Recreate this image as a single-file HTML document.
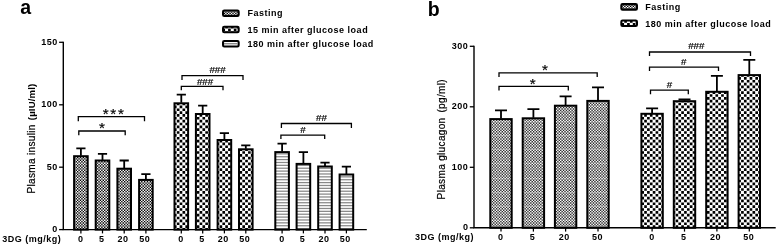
<!DOCTYPE html>
<html><head><meta charset="utf-8"><title>Figure</title>
<style>
html,body{margin:0;padding:0;background:#fff}
svg{display:block}
text{font-family:'Liberation Sans',sans-serif;fill:#000}
.b{font-weight:bold;font-size:9px;letter-spacing:0.5px}
.p{font-weight:bold;font-size:19.5px}
.h{font-size:9.8px;letter-spacing:-0.1px;stroke:#000;stroke-width:0.2px}
.s{font-size:15.2px;letter-spacing:1.7px;stroke:#000;stroke-width:0.2px}
.yl{font-size:10.1px;letter-spacing:0.3px;stroke:#000;stroke-width:0.18px}
.ylb{font-size:9.6px;font-weight:bold;letter-spacing:0.15px}
</style></head><body>
<svg width="780" height="246" viewBox="0 0 780 246">
<defs>
<pattern id="fine" width="57" height="57" patternUnits="userSpaceOnUse">
<rect width="57" height="57" fill="#fff"/>
<path d="M0.020 0.020h1.39v1.39h-1.39zM2.870 0.020h1.39v1.39h-1.39zM5.720 0.020h1.39v1.39h-1.39zM8.570 0.020h1.39v1.39h-1.39zM11.420 0.020h1.39v1.39h-1.39zM14.270 0.020h1.39v1.39h-1.39zM17.120 0.020h1.39v1.39h-1.39zM19.970 0.020h1.39v1.39h-1.39zM22.820 0.020h1.39v1.39h-1.39zM25.670 0.020h1.39v1.39h-1.39zM28.520 0.020h1.39v1.39h-1.39zM31.370 0.020h1.39v1.39h-1.39zM34.220 0.020h1.39v1.39h-1.39zM37.070 0.020h1.39v1.39h-1.39zM39.920 0.020h1.39v1.39h-1.39zM42.770 0.020h1.39v1.39h-1.39zM45.620 0.020h1.39v1.39h-1.39zM48.470 0.020h1.39v1.39h-1.39zM51.320 0.020h1.39v1.39h-1.39zM54.170 0.020h1.39v1.39h-1.39zM1.445 1.445h1.39v1.39h-1.39zM4.295 1.445h1.39v1.39h-1.39zM7.145 1.445h1.39v1.39h-1.39zM9.995 1.445h1.39v1.39h-1.39zM12.845 1.445h1.39v1.39h-1.39zM15.695 1.445h1.39v1.39h-1.39zM18.545 1.445h1.39v1.39h-1.39zM21.395 1.445h1.39v1.39h-1.39zM24.245 1.445h1.39v1.39h-1.39zM27.095 1.445h1.39v1.39h-1.39zM29.945 1.445h1.39v1.39h-1.39zM32.795 1.445h1.39v1.39h-1.39zM35.645 1.445h1.39v1.39h-1.39zM38.495 1.445h1.39v1.39h-1.39zM41.345 1.445h1.39v1.39h-1.39zM44.195 1.445h1.39v1.39h-1.39zM47.045 1.445h1.39v1.39h-1.39zM49.895 1.445h1.39v1.39h-1.39zM52.745 1.445h1.39v1.39h-1.39zM55.595 1.445h1.39v1.39h-1.39zM0.020 2.870h1.39v1.39h-1.39zM2.870 2.870h1.39v1.39h-1.39zM5.720 2.870h1.39v1.39h-1.39zM8.570 2.870h1.39v1.39h-1.39zM11.420 2.870h1.39v1.39h-1.39zM14.270 2.870h1.39v1.39h-1.39zM17.120 2.870h1.39v1.39h-1.39zM19.970 2.870h1.39v1.39h-1.39zM22.820 2.870h1.39v1.39h-1.39zM25.670 2.870h1.39v1.39h-1.39zM28.520 2.870h1.39v1.39h-1.39zM31.370 2.870h1.39v1.39h-1.39zM34.220 2.870h1.39v1.39h-1.39zM37.070 2.870h1.39v1.39h-1.39zM39.920 2.870h1.39v1.39h-1.39zM42.770 2.870h1.39v1.39h-1.39zM45.620 2.870h1.39v1.39h-1.39zM48.470 2.870h1.39v1.39h-1.39zM51.320 2.870h1.39v1.39h-1.39zM54.170 2.870h1.39v1.39h-1.39zM1.445 4.295h1.39v1.39h-1.39zM4.295 4.295h1.39v1.39h-1.39zM7.145 4.295h1.39v1.39h-1.39zM9.995 4.295h1.39v1.39h-1.39zM12.845 4.295h1.39v1.39h-1.39zM15.695 4.295h1.39v1.39h-1.39zM18.545 4.295h1.39v1.39h-1.39zM21.395 4.295h1.39v1.39h-1.39zM24.245 4.295h1.39v1.39h-1.39zM27.095 4.295h1.39v1.39h-1.39zM29.945 4.295h1.39v1.39h-1.39zM32.795 4.295h1.39v1.39h-1.39zM35.645 4.295h1.39v1.39h-1.39zM38.495 4.295h1.39v1.39h-1.39zM41.345 4.295h1.39v1.39h-1.39zM44.195 4.295h1.39v1.39h-1.39zM47.045 4.295h1.39v1.39h-1.39zM49.895 4.295h1.39v1.39h-1.39zM52.745 4.295h1.39v1.39h-1.39zM55.595 4.295h1.39v1.39h-1.39zM0.020 5.720h1.39v1.39h-1.39zM2.870 5.720h1.39v1.39h-1.39zM5.720 5.720h1.39v1.39h-1.39zM8.570 5.720h1.39v1.39h-1.39zM11.420 5.720h1.39v1.39h-1.39zM14.270 5.720h1.39v1.39h-1.39zM17.120 5.720h1.39v1.39h-1.39zM19.970 5.720h1.39v1.39h-1.39zM22.820 5.720h1.39v1.39h-1.39zM25.670 5.720h1.39v1.39h-1.39zM28.520 5.720h1.39v1.39h-1.39zM31.370 5.720h1.39v1.39h-1.39zM34.220 5.720h1.39v1.39h-1.39zM37.070 5.720h1.39v1.39h-1.39zM39.920 5.720h1.39v1.39h-1.39zM42.770 5.720h1.39v1.39h-1.39zM45.620 5.720h1.39v1.39h-1.39zM48.470 5.720h1.39v1.39h-1.39zM51.320 5.720h1.39v1.39h-1.39zM54.170 5.720h1.39v1.39h-1.39zM1.445 7.145h1.39v1.39h-1.39zM4.295 7.145h1.39v1.39h-1.39zM7.145 7.145h1.39v1.39h-1.39zM9.995 7.145h1.39v1.39h-1.39zM12.845 7.145h1.39v1.39h-1.39zM15.695 7.145h1.39v1.39h-1.39zM18.545 7.145h1.39v1.39h-1.39zM21.395 7.145h1.39v1.39h-1.39zM24.245 7.145h1.39v1.39h-1.39zM27.095 7.145h1.39v1.39h-1.39zM29.945 7.145h1.39v1.39h-1.39zM32.795 7.145h1.39v1.39h-1.39zM35.645 7.145h1.39v1.39h-1.39zM38.495 7.145h1.39v1.39h-1.39zM41.345 7.145h1.39v1.39h-1.39zM44.195 7.145h1.39v1.39h-1.39zM47.045 7.145h1.39v1.39h-1.39zM49.895 7.145h1.39v1.39h-1.39zM52.745 7.145h1.39v1.39h-1.39zM55.595 7.145h1.39v1.39h-1.39zM0.020 8.570h1.39v1.39h-1.39zM2.870 8.570h1.39v1.39h-1.39zM5.720 8.570h1.39v1.39h-1.39zM8.570 8.570h1.39v1.39h-1.39zM11.420 8.570h1.39v1.39h-1.39zM14.270 8.570h1.39v1.39h-1.39zM17.120 8.570h1.39v1.39h-1.39zM19.970 8.570h1.39v1.39h-1.39zM22.820 8.570h1.39v1.39h-1.39zM25.670 8.570h1.39v1.39h-1.39zM28.520 8.570h1.39v1.39h-1.39zM31.370 8.570h1.39v1.39h-1.39zM34.220 8.570h1.39v1.39h-1.39zM37.070 8.570h1.39v1.39h-1.39zM39.920 8.570h1.39v1.39h-1.39zM42.770 8.570h1.39v1.39h-1.39zM45.620 8.570h1.39v1.39h-1.39zM48.470 8.570h1.39v1.39h-1.39zM51.320 8.570h1.39v1.39h-1.39zM54.170 8.570h1.39v1.39h-1.39zM1.445 9.995h1.39v1.39h-1.39zM4.295 9.995h1.39v1.39h-1.39zM7.145 9.995h1.39v1.39h-1.39zM9.995 9.995h1.39v1.39h-1.39zM12.845 9.995h1.39v1.39h-1.39zM15.695 9.995h1.39v1.39h-1.39zM18.545 9.995h1.39v1.39h-1.39zM21.395 9.995h1.39v1.39h-1.39zM24.245 9.995h1.39v1.39h-1.39zM27.095 9.995h1.39v1.39h-1.39zM29.945 9.995h1.39v1.39h-1.39zM32.795 9.995h1.39v1.39h-1.39zM35.645 9.995h1.39v1.39h-1.39zM38.495 9.995h1.39v1.39h-1.39zM41.345 9.995h1.39v1.39h-1.39zM44.195 9.995h1.39v1.39h-1.39zM47.045 9.995h1.39v1.39h-1.39zM49.895 9.995h1.39v1.39h-1.39zM52.745 9.995h1.39v1.39h-1.39zM55.595 9.995h1.39v1.39h-1.39zM0.020 11.420h1.39v1.39h-1.39zM2.870 11.420h1.39v1.39h-1.39zM5.720 11.420h1.39v1.39h-1.39zM8.570 11.420h1.39v1.39h-1.39zM11.420 11.420h1.39v1.39h-1.39zM14.270 11.420h1.39v1.39h-1.39zM17.120 11.420h1.39v1.39h-1.39zM19.970 11.420h1.39v1.39h-1.39zM22.820 11.420h1.39v1.39h-1.39zM25.670 11.420h1.39v1.39h-1.39zM28.520 11.420h1.39v1.39h-1.39zM31.370 11.420h1.39v1.39h-1.39zM34.220 11.420h1.39v1.39h-1.39zM37.070 11.420h1.39v1.39h-1.39zM39.920 11.420h1.39v1.39h-1.39zM42.770 11.420h1.39v1.39h-1.39zM45.620 11.420h1.39v1.39h-1.39zM48.470 11.420h1.39v1.39h-1.39zM51.320 11.420h1.39v1.39h-1.39zM54.170 11.420h1.39v1.39h-1.39zM1.445 12.845h1.39v1.39h-1.39zM4.295 12.845h1.39v1.39h-1.39zM7.145 12.845h1.39v1.39h-1.39zM9.995 12.845h1.39v1.39h-1.39zM12.845 12.845h1.39v1.39h-1.39zM15.695 12.845h1.39v1.39h-1.39zM18.545 12.845h1.39v1.39h-1.39zM21.395 12.845h1.39v1.39h-1.39zM24.245 12.845h1.39v1.39h-1.39zM27.095 12.845h1.39v1.39h-1.39zM29.945 12.845h1.39v1.39h-1.39zM32.795 12.845h1.39v1.39h-1.39zM35.645 12.845h1.39v1.39h-1.39zM38.495 12.845h1.39v1.39h-1.39zM41.345 12.845h1.39v1.39h-1.39zM44.195 12.845h1.39v1.39h-1.39zM47.045 12.845h1.39v1.39h-1.39zM49.895 12.845h1.39v1.39h-1.39zM52.745 12.845h1.39v1.39h-1.39zM55.595 12.845h1.39v1.39h-1.39zM0.020 14.270h1.39v1.39h-1.39zM2.870 14.270h1.39v1.39h-1.39zM5.720 14.270h1.39v1.39h-1.39zM8.570 14.270h1.39v1.39h-1.39zM11.420 14.270h1.39v1.39h-1.39zM14.270 14.270h1.39v1.39h-1.39zM17.120 14.270h1.39v1.39h-1.39zM19.970 14.270h1.39v1.39h-1.39zM22.820 14.270h1.39v1.39h-1.39zM25.670 14.270h1.39v1.39h-1.39zM28.520 14.270h1.39v1.39h-1.39zM31.370 14.270h1.39v1.39h-1.39zM34.220 14.270h1.39v1.39h-1.39zM37.070 14.270h1.39v1.39h-1.39zM39.920 14.270h1.39v1.39h-1.39zM42.770 14.270h1.39v1.39h-1.39zM45.620 14.270h1.39v1.39h-1.39zM48.470 14.270h1.39v1.39h-1.39zM51.320 14.270h1.39v1.39h-1.39zM54.170 14.270h1.39v1.39h-1.39zM1.445 15.695h1.39v1.39h-1.39zM4.295 15.695h1.39v1.39h-1.39zM7.145 15.695h1.39v1.39h-1.39zM9.995 15.695h1.39v1.39h-1.39zM12.845 15.695h1.39v1.39h-1.39zM15.695 15.695h1.39v1.39h-1.39zM18.545 15.695h1.39v1.39h-1.39zM21.395 15.695h1.39v1.39h-1.39zM24.245 15.695h1.39v1.39h-1.39zM27.095 15.695h1.39v1.39h-1.39zM29.945 15.695h1.39v1.39h-1.39zM32.795 15.695h1.39v1.39h-1.39zM35.645 15.695h1.39v1.39h-1.39zM38.495 15.695h1.39v1.39h-1.39zM41.345 15.695h1.39v1.39h-1.39zM44.195 15.695h1.39v1.39h-1.39zM47.045 15.695h1.39v1.39h-1.39zM49.895 15.695h1.39v1.39h-1.39zM52.745 15.695h1.39v1.39h-1.39zM55.595 15.695h1.39v1.39h-1.39zM0.020 17.120h1.39v1.39h-1.39zM2.870 17.120h1.39v1.39h-1.39zM5.720 17.120h1.39v1.39h-1.39zM8.570 17.120h1.39v1.39h-1.39zM11.420 17.120h1.39v1.39h-1.39zM14.270 17.120h1.39v1.39h-1.39zM17.120 17.120h1.39v1.39h-1.39zM19.970 17.120h1.39v1.39h-1.39zM22.820 17.120h1.39v1.39h-1.39zM25.670 17.120h1.39v1.39h-1.39zM28.520 17.120h1.39v1.39h-1.39zM31.370 17.120h1.39v1.39h-1.39zM34.220 17.120h1.39v1.39h-1.39zM37.070 17.120h1.39v1.39h-1.39zM39.920 17.120h1.39v1.39h-1.39zM42.770 17.120h1.39v1.39h-1.39zM45.620 17.120h1.39v1.39h-1.39zM48.470 17.120h1.39v1.39h-1.39zM51.320 17.120h1.39v1.39h-1.39zM54.170 17.120h1.39v1.39h-1.39zM1.445 18.545h1.39v1.39h-1.39zM4.295 18.545h1.39v1.39h-1.39zM7.145 18.545h1.39v1.39h-1.39zM9.995 18.545h1.39v1.39h-1.39zM12.845 18.545h1.39v1.39h-1.39zM15.695 18.545h1.39v1.39h-1.39zM18.545 18.545h1.39v1.39h-1.39zM21.395 18.545h1.39v1.39h-1.39zM24.245 18.545h1.39v1.39h-1.39zM27.095 18.545h1.39v1.39h-1.39zM29.945 18.545h1.39v1.39h-1.39zM32.795 18.545h1.39v1.39h-1.39zM35.645 18.545h1.39v1.39h-1.39zM38.495 18.545h1.39v1.39h-1.39zM41.345 18.545h1.39v1.39h-1.39zM44.195 18.545h1.39v1.39h-1.39zM47.045 18.545h1.39v1.39h-1.39zM49.895 18.545h1.39v1.39h-1.39zM52.745 18.545h1.39v1.39h-1.39zM55.595 18.545h1.39v1.39h-1.39zM0.020 19.970h1.39v1.39h-1.39zM2.870 19.970h1.39v1.39h-1.39zM5.720 19.970h1.39v1.39h-1.39zM8.570 19.970h1.39v1.39h-1.39zM11.420 19.970h1.39v1.39h-1.39zM14.270 19.970h1.39v1.39h-1.39zM17.120 19.970h1.39v1.39h-1.39zM19.970 19.970h1.39v1.39h-1.39zM22.820 19.970h1.39v1.39h-1.39zM25.670 19.970h1.39v1.39h-1.39zM28.520 19.970h1.39v1.39h-1.39zM31.370 19.970h1.39v1.39h-1.39zM34.220 19.970h1.39v1.39h-1.39zM37.070 19.970h1.39v1.39h-1.39zM39.920 19.970h1.39v1.39h-1.39zM42.770 19.970h1.39v1.39h-1.39zM45.620 19.970h1.39v1.39h-1.39zM48.470 19.970h1.39v1.39h-1.39zM51.320 19.970h1.39v1.39h-1.39zM54.170 19.970h1.39v1.39h-1.39zM1.445 21.395h1.39v1.39h-1.39zM4.295 21.395h1.39v1.39h-1.39zM7.145 21.395h1.39v1.39h-1.39zM9.995 21.395h1.39v1.39h-1.39zM12.845 21.395h1.39v1.39h-1.39zM15.695 21.395h1.39v1.39h-1.39zM18.545 21.395h1.39v1.39h-1.39zM21.395 21.395h1.39v1.39h-1.39zM24.245 21.395h1.39v1.39h-1.39zM27.095 21.395h1.39v1.39h-1.39zM29.945 21.395h1.39v1.39h-1.39zM32.795 21.395h1.39v1.39h-1.39zM35.645 21.395h1.39v1.39h-1.39zM38.495 21.395h1.39v1.39h-1.39zM41.345 21.395h1.39v1.39h-1.39zM44.195 21.395h1.39v1.39h-1.39zM47.045 21.395h1.39v1.39h-1.39zM49.895 21.395h1.39v1.39h-1.39zM52.745 21.395h1.39v1.39h-1.39zM55.595 21.395h1.39v1.39h-1.39zM0.020 22.820h1.39v1.39h-1.39zM2.870 22.820h1.39v1.39h-1.39zM5.720 22.820h1.39v1.39h-1.39zM8.570 22.820h1.39v1.39h-1.39zM11.420 22.820h1.39v1.39h-1.39zM14.270 22.820h1.39v1.39h-1.39zM17.120 22.820h1.39v1.39h-1.39zM19.970 22.820h1.39v1.39h-1.39zM22.820 22.820h1.39v1.39h-1.39zM25.670 22.820h1.39v1.39h-1.39zM28.520 22.820h1.39v1.39h-1.39zM31.370 22.820h1.39v1.39h-1.39zM34.220 22.820h1.39v1.39h-1.39zM37.070 22.820h1.39v1.39h-1.39zM39.920 22.820h1.39v1.39h-1.39zM42.770 22.820h1.39v1.39h-1.39zM45.620 22.820h1.39v1.39h-1.39zM48.470 22.820h1.39v1.39h-1.39zM51.320 22.820h1.39v1.39h-1.39zM54.170 22.820h1.39v1.39h-1.39zM1.445 24.245h1.39v1.39h-1.39zM4.295 24.245h1.39v1.39h-1.39zM7.145 24.245h1.39v1.39h-1.39zM9.995 24.245h1.39v1.39h-1.39zM12.845 24.245h1.39v1.39h-1.39zM15.695 24.245h1.39v1.39h-1.39zM18.545 24.245h1.39v1.39h-1.39zM21.395 24.245h1.39v1.39h-1.39zM24.245 24.245h1.39v1.39h-1.39zM27.095 24.245h1.39v1.39h-1.39zM29.945 24.245h1.39v1.39h-1.39zM32.795 24.245h1.39v1.39h-1.39zM35.645 24.245h1.39v1.39h-1.39zM38.495 24.245h1.39v1.39h-1.39zM41.345 24.245h1.39v1.39h-1.39zM44.195 24.245h1.39v1.39h-1.39zM47.045 24.245h1.39v1.39h-1.39zM49.895 24.245h1.39v1.39h-1.39zM52.745 24.245h1.39v1.39h-1.39zM55.595 24.245h1.39v1.39h-1.39zM0.020 25.670h1.39v1.39h-1.39zM2.870 25.670h1.39v1.39h-1.39zM5.720 25.670h1.39v1.39h-1.39zM8.570 25.670h1.39v1.39h-1.39zM11.420 25.670h1.39v1.39h-1.39zM14.270 25.670h1.39v1.39h-1.39zM17.120 25.670h1.39v1.39h-1.39zM19.970 25.670h1.39v1.39h-1.39zM22.820 25.670h1.39v1.39h-1.39zM25.670 25.670h1.39v1.39h-1.39zM28.520 25.670h1.39v1.39h-1.39zM31.370 25.670h1.39v1.39h-1.39zM34.220 25.670h1.39v1.39h-1.39zM37.070 25.670h1.39v1.39h-1.39zM39.920 25.670h1.39v1.39h-1.39zM42.770 25.670h1.39v1.39h-1.39zM45.620 25.670h1.39v1.39h-1.39zM48.470 25.670h1.39v1.39h-1.39zM51.320 25.670h1.39v1.39h-1.39zM54.170 25.670h1.39v1.39h-1.39zM1.445 27.095h1.39v1.39h-1.39zM4.295 27.095h1.39v1.39h-1.39zM7.145 27.095h1.39v1.39h-1.39zM9.995 27.095h1.39v1.39h-1.39zM12.845 27.095h1.39v1.39h-1.39zM15.695 27.095h1.39v1.39h-1.39zM18.545 27.095h1.39v1.39h-1.39zM21.395 27.095h1.39v1.39h-1.39zM24.245 27.095h1.39v1.39h-1.39zM27.095 27.095h1.39v1.39h-1.39zM29.945 27.095h1.39v1.39h-1.39zM32.795 27.095h1.39v1.39h-1.39zM35.645 27.095h1.39v1.39h-1.39zM38.495 27.095h1.39v1.39h-1.39zM41.345 27.095h1.39v1.39h-1.39zM44.195 27.095h1.39v1.39h-1.39zM47.045 27.095h1.39v1.39h-1.39zM49.895 27.095h1.39v1.39h-1.39zM52.745 27.095h1.39v1.39h-1.39zM55.595 27.095h1.39v1.39h-1.39zM0.020 28.520h1.39v1.39h-1.39zM2.870 28.520h1.39v1.39h-1.39zM5.720 28.520h1.39v1.39h-1.39zM8.570 28.520h1.39v1.39h-1.39zM11.420 28.520h1.39v1.39h-1.39zM14.270 28.520h1.39v1.39h-1.39zM17.120 28.520h1.39v1.39h-1.39zM19.970 28.520h1.39v1.39h-1.39zM22.820 28.520h1.39v1.39h-1.39zM25.670 28.520h1.39v1.39h-1.39zM28.520 28.520h1.39v1.39h-1.39zM31.370 28.520h1.39v1.39h-1.39zM34.220 28.520h1.39v1.39h-1.39zM37.070 28.520h1.39v1.39h-1.39zM39.920 28.520h1.39v1.39h-1.39zM42.770 28.520h1.39v1.39h-1.39zM45.620 28.520h1.39v1.39h-1.39zM48.470 28.520h1.39v1.39h-1.39zM51.320 28.520h1.39v1.39h-1.39zM54.170 28.520h1.39v1.39h-1.39zM1.445 29.945h1.39v1.39h-1.39zM4.295 29.945h1.39v1.39h-1.39zM7.145 29.945h1.39v1.39h-1.39zM9.995 29.945h1.39v1.39h-1.39zM12.845 29.945h1.39v1.39h-1.39zM15.695 29.945h1.39v1.39h-1.39zM18.545 29.945h1.39v1.39h-1.39zM21.395 29.945h1.39v1.39h-1.39zM24.245 29.945h1.39v1.39h-1.39zM27.095 29.945h1.39v1.39h-1.39zM29.945 29.945h1.39v1.39h-1.39zM32.795 29.945h1.39v1.39h-1.39zM35.645 29.945h1.39v1.39h-1.39zM38.495 29.945h1.39v1.39h-1.39zM41.345 29.945h1.39v1.39h-1.39zM44.195 29.945h1.39v1.39h-1.39zM47.045 29.945h1.39v1.39h-1.39zM49.895 29.945h1.39v1.39h-1.39zM52.745 29.945h1.39v1.39h-1.39zM55.595 29.945h1.39v1.39h-1.39zM0.020 31.370h1.39v1.39h-1.39zM2.870 31.370h1.39v1.39h-1.39zM5.720 31.370h1.39v1.39h-1.39zM8.570 31.370h1.39v1.39h-1.39zM11.420 31.370h1.39v1.39h-1.39zM14.270 31.370h1.39v1.39h-1.39zM17.120 31.370h1.39v1.39h-1.39zM19.970 31.370h1.39v1.39h-1.39zM22.820 31.370h1.39v1.39h-1.39zM25.670 31.370h1.39v1.39h-1.39zM28.520 31.370h1.39v1.39h-1.39zM31.370 31.370h1.39v1.39h-1.39zM34.220 31.370h1.39v1.39h-1.39zM37.070 31.370h1.39v1.39h-1.39zM39.920 31.370h1.39v1.39h-1.39zM42.770 31.370h1.39v1.39h-1.39zM45.620 31.370h1.39v1.39h-1.39zM48.470 31.370h1.39v1.39h-1.39zM51.320 31.370h1.39v1.39h-1.39zM54.170 31.370h1.39v1.39h-1.39zM1.445 32.795h1.39v1.39h-1.39zM4.295 32.795h1.39v1.39h-1.39zM7.145 32.795h1.39v1.39h-1.39zM9.995 32.795h1.39v1.39h-1.39zM12.845 32.795h1.39v1.39h-1.39zM15.695 32.795h1.39v1.39h-1.39zM18.545 32.795h1.39v1.39h-1.39zM21.395 32.795h1.39v1.39h-1.39zM24.245 32.795h1.39v1.39h-1.39zM27.095 32.795h1.39v1.39h-1.39zM29.945 32.795h1.39v1.39h-1.39zM32.795 32.795h1.39v1.39h-1.39zM35.645 32.795h1.39v1.39h-1.39zM38.495 32.795h1.39v1.39h-1.39zM41.345 32.795h1.39v1.39h-1.39zM44.195 32.795h1.39v1.39h-1.39zM47.045 32.795h1.39v1.39h-1.39zM49.895 32.795h1.39v1.39h-1.39zM52.745 32.795h1.39v1.39h-1.39zM55.595 32.795h1.39v1.39h-1.39zM0.020 34.220h1.39v1.39h-1.39zM2.870 34.220h1.39v1.39h-1.39zM5.720 34.220h1.39v1.39h-1.39zM8.570 34.220h1.39v1.39h-1.39zM11.420 34.220h1.39v1.39h-1.39zM14.270 34.220h1.39v1.39h-1.39zM17.120 34.220h1.39v1.39h-1.39zM19.970 34.220h1.39v1.39h-1.39zM22.820 34.220h1.39v1.39h-1.39zM25.670 34.220h1.39v1.39h-1.39zM28.520 34.220h1.39v1.39h-1.39zM31.370 34.220h1.39v1.39h-1.39zM34.220 34.220h1.39v1.39h-1.39zM37.070 34.220h1.39v1.39h-1.39zM39.920 34.220h1.39v1.39h-1.39zM42.770 34.220h1.39v1.39h-1.39zM45.620 34.220h1.39v1.39h-1.39zM48.470 34.220h1.39v1.39h-1.39zM51.320 34.220h1.39v1.39h-1.39zM54.170 34.220h1.39v1.39h-1.39zM1.445 35.645h1.39v1.39h-1.39zM4.295 35.645h1.39v1.39h-1.39zM7.145 35.645h1.39v1.39h-1.39zM9.995 35.645h1.39v1.39h-1.39zM12.845 35.645h1.39v1.39h-1.39zM15.695 35.645h1.39v1.39h-1.39zM18.545 35.645h1.39v1.39h-1.39zM21.395 35.645h1.39v1.39h-1.39zM24.245 35.645h1.39v1.39h-1.39zM27.095 35.645h1.39v1.39h-1.39zM29.945 35.645h1.39v1.39h-1.39zM32.795 35.645h1.39v1.39h-1.39zM35.645 35.645h1.39v1.39h-1.39zM38.495 35.645h1.39v1.39h-1.39zM41.345 35.645h1.39v1.39h-1.39zM44.195 35.645h1.39v1.39h-1.39zM47.045 35.645h1.39v1.39h-1.39zM49.895 35.645h1.39v1.39h-1.39zM52.745 35.645h1.39v1.39h-1.39zM55.595 35.645h1.39v1.39h-1.39zM0.020 37.070h1.39v1.39h-1.39zM2.870 37.070h1.39v1.39h-1.39zM5.720 37.070h1.39v1.39h-1.39zM8.570 37.070h1.39v1.39h-1.39zM11.420 37.070h1.39v1.39h-1.39zM14.270 37.070h1.39v1.39h-1.39zM17.120 37.070h1.39v1.39h-1.39zM19.970 37.070h1.39v1.39h-1.39zM22.820 37.070h1.39v1.39h-1.39zM25.670 37.070h1.39v1.39h-1.39zM28.520 37.070h1.39v1.39h-1.39zM31.370 37.070h1.39v1.39h-1.39zM34.220 37.070h1.39v1.39h-1.39zM37.070 37.070h1.39v1.39h-1.39zM39.920 37.070h1.39v1.39h-1.39zM42.770 37.070h1.39v1.39h-1.39zM45.620 37.070h1.39v1.39h-1.39zM48.470 37.070h1.39v1.39h-1.39zM51.320 37.070h1.39v1.39h-1.39zM54.170 37.070h1.39v1.39h-1.39zM1.445 38.495h1.39v1.39h-1.39zM4.295 38.495h1.39v1.39h-1.39zM7.145 38.495h1.39v1.39h-1.39zM9.995 38.495h1.39v1.39h-1.39zM12.845 38.495h1.39v1.39h-1.39zM15.695 38.495h1.39v1.39h-1.39zM18.545 38.495h1.39v1.39h-1.39zM21.395 38.495h1.39v1.39h-1.39zM24.245 38.495h1.39v1.39h-1.39zM27.095 38.495h1.39v1.39h-1.39zM29.945 38.495h1.39v1.39h-1.39zM32.795 38.495h1.39v1.39h-1.39zM35.645 38.495h1.39v1.39h-1.39zM38.495 38.495h1.39v1.39h-1.39zM41.345 38.495h1.39v1.39h-1.39zM44.195 38.495h1.39v1.39h-1.39zM47.045 38.495h1.39v1.39h-1.39zM49.895 38.495h1.39v1.39h-1.39zM52.745 38.495h1.39v1.39h-1.39zM55.595 38.495h1.39v1.39h-1.39zM0.020 39.920h1.39v1.39h-1.39zM2.870 39.920h1.39v1.39h-1.39zM5.720 39.920h1.39v1.39h-1.39zM8.570 39.920h1.39v1.39h-1.39zM11.420 39.920h1.39v1.39h-1.39zM14.270 39.920h1.39v1.39h-1.39zM17.120 39.920h1.39v1.39h-1.39zM19.970 39.920h1.39v1.39h-1.39zM22.820 39.920h1.39v1.39h-1.39zM25.670 39.920h1.39v1.39h-1.39zM28.520 39.920h1.39v1.39h-1.39zM31.370 39.920h1.39v1.39h-1.39zM34.220 39.920h1.39v1.39h-1.39zM37.070 39.920h1.39v1.39h-1.39zM39.920 39.920h1.39v1.39h-1.39zM42.770 39.920h1.39v1.39h-1.39zM45.620 39.920h1.39v1.39h-1.39zM48.470 39.920h1.39v1.39h-1.39zM51.320 39.920h1.39v1.39h-1.39zM54.170 39.920h1.39v1.39h-1.39zM1.445 41.345h1.39v1.39h-1.39zM4.295 41.345h1.39v1.39h-1.39zM7.145 41.345h1.39v1.39h-1.39zM9.995 41.345h1.39v1.39h-1.39zM12.845 41.345h1.39v1.39h-1.39zM15.695 41.345h1.39v1.39h-1.39zM18.545 41.345h1.39v1.39h-1.39zM21.395 41.345h1.39v1.39h-1.39zM24.245 41.345h1.39v1.39h-1.39zM27.095 41.345h1.39v1.39h-1.39zM29.945 41.345h1.39v1.39h-1.39zM32.795 41.345h1.39v1.39h-1.39zM35.645 41.345h1.39v1.39h-1.39zM38.495 41.345h1.39v1.39h-1.39zM41.345 41.345h1.39v1.39h-1.39zM44.195 41.345h1.39v1.39h-1.39zM47.045 41.345h1.39v1.39h-1.39zM49.895 41.345h1.39v1.39h-1.39zM52.745 41.345h1.39v1.39h-1.39zM55.595 41.345h1.39v1.39h-1.39zM0.020 42.770h1.39v1.39h-1.39zM2.870 42.770h1.39v1.39h-1.39zM5.720 42.770h1.39v1.39h-1.39zM8.570 42.770h1.39v1.39h-1.39zM11.420 42.770h1.39v1.39h-1.39zM14.270 42.770h1.39v1.39h-1.39zM17.120 42.770h1.39v1.39h-1.39zM19.970 42.770h1.39v1.39h-1.39zM22.820 42.770h1.39v1.39h-1.39zM25.670 42.770h1.39v1.39h-1.39zM28.520 42.770h1.39v1.39h-1.39zM31.370 42.770h1.39v1.39h-1.39zM34.220 42.770h1.39v1.39h-1.39zM37.070 42.770h1.39v1.39h-1.39zM39.920 42.770h1.39v1.39h-1.39zM42.770 42.770h1.39v1.39h-1.39zM45.620 42.770h1.39v1.39h-1.39zM48.470 42.770h1.39v1.39h-1.39zM51.320 42.770h1.39v1.39h-1.39zM54.170 42.770h1.39v1.39h-1.39zM1.445 44.195h1.39v1.39h-1.39zM4.295 44.195h1.39v1.39h-1.39zM7.145 44.195h1.39v1.39h-1.39zM9.995 44.195h1.39v1.39h-1.39zM12.845 44.195h1.39v1.39h-1.39zM15.695 44.195h1.39v1.39h-1.39zM18.545 44.195h1.39v1.39h-1.39zM21.395 44.195h1.39v1.39h-1.39zM24.245 44.195h1.39v1.39h-1.39zM27.095 44.195h1.39v1.39h-1.39zM29.945 44.195h1.39v1.39h-1.39zM32.795 44.195h1.39v1.39h-1.39zM35.645 44.195h1.39v1.39h-1.39zM38.495 44.195h1.39v1.39h-1.39zM41.345 44.195h1.39v1.39h-1.39zM44.195 44.195h1.39v1.39h-1.39zM47.045 44.195h1.39v1.39h-1.39zM49.895 44.195h1.39v1.39h-1.39zM52.745 44.195h1.39v1.39h-1.39zM55.595 44.195h1.39v1.39h-1.39zM0.020 45.620h1.39v1.39h-1.39zM2.870 45.620h1.39v1.39h-1.39zM5.720 45.620h1.39v1.39h-1.39zM8.570 45.620h1.39v1.39h-1.39zM11.420 45.620h1.39v1.39h-1.39zM14.270 45.620h1.39v1.39h-1.39zM17.120 45.620h1.39v1.39h-1.39zM19.970 45.620h1.39v1.39h-1.39zM22.820 45.620h1.39v1.39h-1.39zM25.670 45.620h1.39v1.39h-1.39zM28.520 45.620h1.39v1.39h-1.39zM31.370 45.620h1.39v1.39h-1.39zM34.220 45.620h1.39v1.39h-1.39zM37.070 45.620h1.39v1.39h-1.39zM39.920 45.620h1.39v1.39h-1.39zM42.770 45.620h1.39v1.39h-1.39zM45.620 45.620h1.39v1.39h-1.39zM48.470 45.620h1.39v1.39h-1.39zM51.320 45.620h1.39v1.39h-1.39zM54.170 45.620h1.39v1.39h-1.39zM1.445 47.045h1.39v1.39h-1.39zM4.295 47.045h1.39v1.39h-1.39zM7.145 47.045h1.39v1.39h-1.39zM9.995 47.045h1.39v1.39h-1.39zM12.845 47.045h1.39v1.39h-1.39zM15.695 47.045h1.39v1.39h-1.39zM18.545 47.045h1.39v1.39h-1.39zM21.395 47.045h1.39v1.39h-1.39zM24.245 47.045h1.39v1.39h-1.39zM27.095 47.045h1.39v1.39h-1.39zM29.945 47.045h1.39v1.39h-1.39zM32.795 47.045h1.39v1.39h-1.39zM35.645 47.045h1.39v1.39h-1.39zM38.495 47.045h1.39v1.39h-1.39zM41.345 47.045h1.39v1.39h-1.39zM44.195 47.045h1.39v1.39h-1.39zM47.045 47.045h1.39v1.39h-1.39zM49.895 47.045h1.39v1.39h-1.39zM52.745 47.045h1.39v1.39h-1.39zM55.595 47.045h1.39v1.39h-1.39zM0.020 48.470h1.39v1.39h-1.39zM2.870 48.470h1.39v1.39h-1.39zM5.720 48.470h1.39v1.39h-1.39zM8.570 48.470h1.39v1.39h-1.39zM11.420 48.470h1.39v1.39h-1.39zM14.270 48.470h1.39v1.39h-1.39zM17.120 48.470h1.39v1.39h-1.39zM19.970 48.470h1.39v1.39h-1.39zM22.820 48.470h1.39v1.39h-1.39zM25.670 48.470h1.39v1.39h-1.39zM28.520 48.470h1.39v1.39h-1.39zM31.370 48.470h1.39v1.39h-1.39zM34.220 48.470h1.39v1.39h-1.39zM37.070 48.470h1.39v1.39h-1.39zM39.920 48.470h1.39v1.39h-1.39zM42.770 48.470h1.39v1.39h-1.39zM45.620 48.470h1.39v1.39h-1.39zM48.470 48.470h1.39v1.39h-1.39zM51.320 48.470h1.39v1.39h-1.39zM54.170 48.470h1.39v1.39h-1.39zM1.445 49.895h1.39v1.39h-1.39zM4.295 49.895h1.39v1.39h-1.39zM7.145 49.895h1.39v1.39h-1.39zM9.995 49.895h1.39v1.39h-1.39zM12.845 49.895h1.39v1.39h-1.39zM15.695 49.895h1.39v1.39h-1.39zM18.545 49.895h1.39v1.39h-1.39zM21.395 49.895h1.39v1.39h-1.39zM24.245 49.895h1.39v1.39h-1.39zM27.095 49.895h1.39v1.39h-1.39zM29.945 49.895h1.39v1.39h-1.39zM32.795 49.895h1.39v1.39h-1.39zM35.645 49.895h1.39v1.39h-1.39zM38.495 49.895h1.39v1.39h-1.39zM41.345 49.895h1.39v1.39h-1.39zM44.195 49.895h1.39v1.39h-1.39zM47.045 49.895h1.39v1.39h-1.39zM49.895 49.895h1.39v1.39h-1.39zM52.745 49.895h1.39v1.39h-1.39zM55.595 49.895h1.39v1.39h-1.39zM0.020 51.320h1.39v1.39h-1.39zM2.870 51.320h1.39v1.39h-1.39zM5.720 51.320h1.39v1.39h-1.39zM8.570 51.320h1.39v1.39h-1.39zM11.420 51.320h1.39v1.39h-1.39zM14.270 51.320h1.39v1.39h-1.39zM17.120 51.320h1.39v1.39h-1.39zM19.970 51.320h1.39v1.39h-1.39zM22.820 51.320h1.39v1.39h-1.39zM25.670 51.320h1.39v1.39h-1.39zM28.520 51.320h1.39v1.39h-1.39zM31.370 51.320h1.39v1.39h-1.39zM34.220 51.320h1.39v1.39h-1.39zM37.070 51.320h1.39v1.39h-1.39zM39.920 51.320h1.39v1.39h-1.39zM42.770 51.320h1.39v1.39h-1.39zM45.620 51.320h1.39v1.39h-1.39zM48.470 51.320h1.39v1.39h-1.39zM51.320 51.320h1.39v1.39h-1.39zM54.170 51.320h1.39v1.39h-1.39zM1.445 52.745h1.39v1.39h-1.39zM4.295 52.745h1.39v1.39h-1.39zM7.145 52.745h1.39v1.39h-1.39zM9.995 52.745h1.39v1.39h-1.39zM12.845 52.745h1.39v1.39h-1.39zM15.695 52.745h1.39v1.39h-1.39zM18.545 52.745h1.39v1.39h-1.39zM21.395 52.745h1.39v1.39h-1.39zM24.245 52.745h1.39v1.39h-1.39zM27.095 52.745h1.39v1.39h-1.39zM29.945 52.745h1.39v1.39h-1.39zM32.795 52.745h1.39v1.39h-1.39zM35.645 52.745h1.39v1.39h-1.39zM38.495 52.745h1.39v1.39h-1.39zM41.345 52.745h1.39v1.39h-1.39zM44.195 52.745h1.39v1.39h-1.39zM47.045 52.745h1.39v1.39h-1.39zM49.895 52.745h1.39v1.39h-1.39zM52.745 52.745h1.39v1.39h-1.39zM55.595 52.745h1.39v1.39h-1.39zM0.020 54.170h1.39v1.39h-1.39zM2.870 54.170h1.39v1.39h-1.39zM5.720 54.170h1.39v1.39h-1.39zM8.570 54.170h1.39v1.39h-1.39zM11.420 54.170h1.39v1.39h-1.39zM14.270 54.170h1.39v1.39h-1.39zM17.120 54.170h1.39v1.39h-1.39zM19.970 54.170h1.39v1.39h-1.39zM22.820 54.170h1.39v1.39h-1.39zM25.670 54.170h1.39v1.39h-1.39zM28.520 54.170h1.39v1.39h-1.39zM31.370 54.170h1.39v1.39h-1.39zM34.220 54.170h1.39v1.39h-1.39zM37.070 54.170h1.39v1.39h-1.39zM39.920 54.170h1.39v1.39h-1.39zM42.770 54.170h1.39v1.39h-1.39zM45.620 54.170h1.39v1.39h-1.39zM48.470 54.170h1.39v1.39h-1.39zM51.320 54.170h1.39v1.39h-1.39zM54.170 54.170h1.39v1.39h-1.39zM1.445 55.595h1.39v1.39h-1.39zM4.295 55.595h1.39v1.39h-1.39zM7.145 55.595h1.39v1.39h-1.39zM9.995 55.595h1.39v1.39h-1.39zM12.845 55.595h1.39v1.39h-1.39zM15.695 55.595h1.39v1.39h-1.39zM18.545 55.595h1.39v1.39h-1.39zM21.395 55.595h1.39v1.39h-1.39zM24.245 55.595h1.39v1.39h-1.39zM27.095 55.595h1.39v1.39h-1.39zM29.945 55.595h1.39v1.39h-1.39zM32.795 55.595h1.39v1.39h-1.39zM35.645 55.595h1.39v1.39h-1.39zM38.495 55.595h1.39v1.39h-1.39zM41.345 55.595h1.39v1.39h-1.39zM44.195 55.595h1.39v1.39h-1.39zM47.045 55.595h1.39v1.39h-1.39zM49.895 55.595h1.39v1.39h-1.39zM52.745 55.595h1.39v1.39h-1.39zM55.595 55.595h1.39v1.39h-1.39z" fill="#000"/>
</pattern>
<pattern id="chk" width="57" height="57" patternUnits="userSpaceOnUse">
<rect width="57" height="57" fill="#fff"/>
<path d="M0.10 0.10h2.65v2.65h-2.65zM5.80 0.10h2.65v2.65h-2.65zM11.50 0.10h2.65v2.65h-2.65zM17.20 0.10h2.65v2.65h-2.65zM22.90 0.10h2.65v2.65h-2.65zM28.60 0.10h2.65v2.65h-2.65zM34.30 0.10h2.65v2.65h-2.65zM40.00 0.10h2.65v2.65h-2.65zM45.70 0.10h2.65v2.65h-2.65zM51.40 0.10h2.65v2.65h-2.65zM2.95 2.95h2.65v2.65h-2.65zM8.65 2.95h2.65v2.65h-2.65zM14.35 2.95h2.65v2.65h-2.65zM20.05 2.95h2.65v2.65h-2.65zM25.75 2.95h2.65v2.65h-2.65zM31.45 2.95h2.65v2.65h-2.65zM37.15 2.95h2.65v2.65h-2.65zM42.85 2.95h2.65v2.65h-2.65zM48.55 2.95h2.65v2.65h-2.65zM54.25 2.95h2.65v2.65h-2.65zM0.10 5.80h2.65v2.65h-2.65zM5.80 5.80h2.65v2.65h-2.65zM11.50 5.80h2.65v2.65h-2.65zM17.20 5.80h2.65v2.65h-2.65zM22.90 5.80h2.65v2.65h-2.65zM28.60 5.80h2.65v2.65h-2.65zM34.30 5.80h2.65v2.65h-2.65zM40.00 5.80h2.65v2.65h-2.65zM45.70 5.80h2.65v2.65h-2.65zM51.40 5.80h2.65v2.65h-2.65zM2.95 8.65h2.65v2.65h-2.65zM8.65 8.65h2.65v2.65h-2.65zM14.35 8.65h2.65v2.65h-2.65zM20.05 8.65h2.65v2.65h-2.65zM25.75 8.65h2.65v2.65h-2.65zM31.45 8.65h2.65v2.65h-2.65zM37.15 8.65h2.65v2.65h-2.65zM42.85 8.65h2.65v2.65h-2.65zM48.55 8.65h2.65v2.65h-2.65zM54.25 8.65h2.65v2.65h-2.65zM0.10 11.50h2.65v2.65h-2.65zM5.80 11.50h2.65v2.65h-2.65zM11.50 11.50h2.65v2.65h-2.65zM17.20 11.50h2.65v2.65h-2.65zM22.90 11.50h2.65v2.65h-2.65zM28.60 11.50h2.65v2.65h-2.65zM34.30 11.50h2.65v2.65h-2.65zM40.00 11.50h2.65v2.65h-2.65zM45.70 11.50h2.65v2.65h-2.65zM51.40 11.50h2.65v2.65h-2.65zM2.95 14.35h2.65v2.65h-2.65zM8.65 14.35h2.65v2.65h-2.65zM14.35 14.35h2.65v2.65h-2.65zM20.05 14.35h2.65v2.65h-2.65zM25.75 14.35h2.65v2.65h-2.65zM31.45 14.35h2.65v2.65h-2.65zM37.15 14.35h2.65v2.65h-2.65zM42.85 14.35h2.65v2.65h-2.65zM48.55 14.35h2.65v2.65h-2.65zM54.25 14.35h2.65v2.65h-2.65zM0.10 17.20h2.65v2.65h-2.65zM5.80 17.20h2.65v2.65h-2.65zM11.50 17.20h2.65v2.65h-2.65zM17.20 17.20h2.65v2.65h-2.65zM22.90 17.20h2.65v2.65h-2.65zM28.60 17.20h2.65v2.65h-2.65zM34.30 17.20h2.65v2.65h-2.65zM40.00 17.20h2.65v2.65h-2.65zM45.70 17.20h2.65v2.65h-2.65zM51.40 17.20h2.65v2.65h-2.65zM2.95 20.05h2.65v2.65h-2.65zM8.65 20.05h2.65v2.65h-2.65zM14.35 20.05h2.65v2.65h-2.65zM20.05 20.05h2.65v2.65h-2.65zM25.75 20.05h2.65v2.65h-2.65zM31.45 20.05h2.65v2.65h-2.65zM37.15 20.05h2.65v2.65h-2.65zM42.85 20.05h2.65v2.65h-2.65zM48.55 20.05h2.65v2.65h-2.65zM54.25 20.05h2.65v2.65h-2.65zM0.10 22.90h2.65v2.65h-2.65zM5.80 22.90h2.65v2.65h-2.65zM11.50 22.90h2.65v2.65h-2.65zM17.20 22.90h2.65v2.65h-2.65zM22.90 22.90h2.65v2.65h-2.65zM28.60 22.90h2.65v2.65h-2.65zM34.30 22.90h2.65v2.65h-2.65zM40.00 22.90h2.65v2.65h-2.65zM45.70 22.90h2.65v2.65h-2.65zM51.40 22.90h2.65v2.65h-2.65zM2.95 25.75h2.65v2.65h-2.65zM8.65 25.75h2.65v2.65h-2.65zM14.35 25.75h2.65v2.65h-2.65zM20.05 25.75h2.65v2.65h-2.65zM25.75 25.75h2.65v2.65h-2.65zM31.45 25.75h2.65v2.65h-2.65zM37.15 25.75h2.65v2.65h-2.65zM42.85 25.75h2.65v2.65h-2.65zM48.55 25.75h2.65v2.65h-2.65zM54.25 25.75h2.65v2.65h-2.65zM0.10 28.60h2.65v2.65h-2.65zM5.80 28.60h2.65v2.65h-2.65zM11.50 28.60h2.65v2.65h-2.65zM17.20 28.60h2.65v2.65h-2.65zM22.90 28.60h2.65v2.65h-2.65zM28.60 28.60h2.65v2.65h-2.65zM34.30 28.60h2.65v2.65h-2.65zM40.00 28.60h2.65v2.65h-2.65zM45.70 28.60h2.65v2.65h-2.65zM51.40 28.60h2.65v2.65h-2.65zM2.95 31.45h2.65v2.65h-2.65zM8.65 31.45h2.65v2.65h-2.65zM14.35 31.45h2.65v2.65h-2.65zM20.05 31.45h2.65v2.65h-2.65zM25.75 31.45h2.65v2.65h-2.65zM31.45 31.45h2.65v2.65h-2.65zM37.15 31.45h2.65v2.65h-2.65zM42.85 31.45h2.65v2.65h-2.65zM48.55 31.45h2.65v2.65h-2.65zM54.25 31.45h2.65v2.65h-2.65zM0.10 34.30h2.65v2.65h-2.65zM5.80 34.30h2.65v2.65h-2.65zM11.50 34.30h2.65v2.65h-2.65zM17.20 34.30h2.65v2.65h-2.65zM22.90 34.30h2.65v2.65h-2.65zM28.60 34.30h2.65v2.65h-2.65zM34.30 34.30h2.65v2.65h-2.65zM40.00 34.30h2.65v2.65h-2.65zM45.70 34.30h2.65v2.65h-2.65zM51.40 34.30h2.65v2.65h-2.65zM2.95 37.15h2.65v2.65h-2.65zM8.65 37.15h2.65v2.65h-2.65zM14.35 37.15h2.65v2.65h-2.65zM20.05 37.15h2.65v2.65h-2.65zM25.75 37.15h2.65v2.65h-2.65zM31.45 37.15h2.65v2.65h-2.65zM37.15 37.15h2.65v2.65h-2.65zM42.85 37.15h2.65v2.65h-2.65zM48.55 37.15h2.65v2.65h-2.65zM54.25 37.15h2.65v2.65h-2.65zM0.10 40.00h2.65v2.65h-2.65zM5.80 40.00h2.65v2.65h-2.65zM11.50 40.00h2.65v2.65h-2.65zM17.20 40.00h2.65v2.65h-2.65zM22.90 40.00h2.65v2.65h-2.65zM28.60 40.00h2.65v2.65h-2.65zM34.30 40.00h2.65v2.65h-2.65zM40.00 40.00h2.65v2.65h-2.65zM45.70 40.00h2.65v2.65h-2.65zM51.40 40.00h2.65v2.65h-2.65zM2.95 42.85h2.65v2.65h-2.65zM8.65 42.85h2.65v2.65h-2.65zM14.35 42.85h2.65v2.65h-2.65zM20.05 42.85h2.65v2.65h-2.65zM25.75 42.85h2.65v2.65h-2.65zM31.45 42.85h2.65v2.65h-2.65zM37.15 42.85h2.65v2.65h-2.65zM42.85 42.85h2.65v2.65h-2.65zM48.55 42.85h2.65v2.65h-2.65zM54.25 42.85h2.65v2.65h-2.65zM0.10 45.70h2.65v2.65h-2.65zM5.80 45.70h2.65v2.65h-2.65zM11.50 45.70h2.65v2.65h-2.65zM17.20 45.70h2.65v2.65h-2.65zM22.90 45.70h2.65v2.65h-2.65zM28.60 45.70h2.65v2.65h-2.65zM34.30 45.70h2.65v2.65h-2.65zM40.00 45.70h2.65v2.65h-2.65zM45.70 45.70h2.65v2.65h-2.65zM51.40 45.70h2.65v2.65h-2.65zM2.95 48.55h2.65v2.65h-2.65zM8.65 48.55h2.65v2.65h-2.65zM14.35 48.55h2.65v2.65h-2.65zM20.05 48.55h2.65v2.65h-2.65zM25.75 48.55h2.65v2.65h-2.65zM31.45 48.55h2.65v2.65h-2.65zM37.15 48.55h2.65v2.65h-2.65zM42.85 48.55h2.65v2.65h-2.65zM48.55 48.55h2.65v2.65h-2.65zM54.25 48.55h2.65v2.65h-2.65zM0.10 51.40h2.65v2.65h-2.65zM5.80 51.40h2.65v2.65h-2.65zM11.50 51.40h2.65v2.65h-2.65zM17.20 51.40h2.65v2.65h-2.65zM22.90 51.40h2.65v2.65h-2.65zM28.60 51.40h2.65v2.65h-2.65zM34.30 51.40h2.65v2.65h-2.65zM40.00 51.40h2.65v2.65h-2.65zM45.70 51.40h2.65v2.65h-2.65zM51.40 51.40h2.65v2.65h-2.65zM2.95 54.25h2.65v2.65h-2.65zM8.65 54.25h2.65v2.65h-2.65zM14.35 54.25h2.65v2.65h-2.65zM20.05 54.25h2.65v2.65h-2.65zM25.75 54.25h2.65v2.65h-2.65zM31.45 54.25h2.65v2.65h-2.65zM37.15 54.25h2.65v2.65h-2.65zM42.85 54.25h2.65v2.65h-2.65zM48.55 54.25h2.65v2.65h-2.65zM54.25 54.25h2.65v2.65h-2.65z" fill="#000"/>
</pattern>
<pattern id="hln" width="6" height="23" patternUnits="userSpaceOnUse">
<rect width="6" height="23" fill="#fff"/>
<rect x="0" y="0.850" width="6" height="1.25" fill="#888"/><rect x="0" y="3.725" width="6" height="1.25" fill="#888"/><rect x="0" y="6.600" width="6" height="1.25" fill="#888"/><rect x="0" y="9.475" width="6" height="1.25" fill="#888"/><rect x="0" y="12.350" width="6" height="1.25" fill="#888"/><rect x="0" y="15.225" width="6" height="1.25" fill="#888"/><rect x="0" y="18.100" width="6" height="1.25" fill="#888"/><rect x="0" y="20.975" width="6" height="1.25" fill="#888"/>
</pattern>
<pattern id="leg3" width="6" height="20" patternUnits="userSpaceOnUse"><rect width="6" height="20" fill="#fff"/></pattern>
</defs>
<rect width="780" height="246" fill="#fff"/>

<text x="20.2" y="13.9" class="p">a</text>
<text x="427.7" y="15.5" class="p">b</text>
<path d="M63.3 41.75V229.6H366.8" fill="none" stroke="#000" stroke-width="1.4"/>
<path d="M59.099999999999994 42.3H63.3" stroke="#000" stroke-width="1.3"/>
<text x="57.699999999999996" y="44.9" text-anchor="end" class="b">150</text>
<path d="M59.099999999999994 104.8H63.3" stroke="#000" stroke-width="1.3"/>
<text x="57.699999999999996" y="107.39999999999999" text-anchor="end" class="b">100</text>
<path d="M59.099999999999994 167.2H63.3" stroke="#000" stroke-width="1.3"/>
<text x="57.699999999999996" y="169.79999999999998" text-anchor="end" class="b">50</text>
<path d="M59.099999999999994 229.6H63.3" stroke="#000" stroke-width="1.3"/>
<text x="57.699999999999996" y="232.2" text-anchor="end" class="b">0</text>
<rect x="74.10" y="156.20" width="13.60" height="73.40" fill="url(#fine)" stroke="#000" stroke-width="2.0"/>
<path d="M80.90 155.70V148.40M76.30 148.40H85.50" stroke="#000" stroke-width="1.8" fill="none"/>
<path d="M80.90 229.6V233.4" stroke="#000" stroke-width="1.25"/>
<rect x="95.70" y="160.50" width="13.60" height="69.10" fill="url(#fine)" stroke="#000" stroke-width="2.0"/>
<path d="M102.50 160.00V153.80M97.90 153.80H107.10" stroke="#000" stroke-width="1.8" fill="none"/>
<path d="M102.50 229.6V233.4" stroke="#000" stroke-width="1.25"/>
<rect x="117.40" y="168.70" width="13.60" height="60.90" fill="url(#fine)" stroke="#000" stroke-width="2.0"/>
<path d="M124.20 168.20V160.50M119.60 160.50H128.80" stroke="#000" stroke-width="1.8" fill="none"/>
<path d="M124.20 229.6V233.4" stroke="#000" stroke-width="1.25"/>
<rect x="139.10" y="179.90" width="13.60" height="49.70" fill="url(#fine)" stroke="#000" stroke-width="2.0"/>
<path d="M145.90 179.40V174.20M141.30 174.20H150.50" stroke="#000" stroke-width="1.8" fill="none"/>
<path d="M145.90 229.6V233.4" stroke="#000" stroke-width="1.25"/>
<rect x="174.50" y="103.30" width="13.60" height="126.30" fill="url(#chk)" stroke="#000" stroke-width="2.0"/>
<path d="M181.30 102.80V94.70M176.70 94.70H185.90" stroke="#000" stroke-width="1.8" fill="none"/>
<path d="M181.30 229.6V233.4" stroke="#000" stroke-width="1.25"/>
<rect x="195.90" y="114.00" width="13.60" height="115.60" fill="url(#chk)" stroke="#000" stroke-width="2.0"/>
<path d="M202.70 113.50V105.70M198.10 105.70H207.30" stroke="#000" stroke-width="1.8" fill="none"/>
<path d="M202.70 229.6V233.4" stroke="#000" stroke-width="1.25"/>
<rect x="217.60" y="140.00" width="13.60" height="89.60" fill="url(#chk)" stroke="#000" stroke-width="2.0"/>
<path d="M224.40 139.50V133.20M219.80 133.20H229.00" stroke="#000" stroke-width="1.8" fill="none"/>
<path d="M224.40 229.6V233.4" stroke="#000" stroke-width="1.25"/>
<rect x="239.00" y="149.30" width="13.60" height="80.30" fill="url(#chk)" stroke="#000" stroke-width="2.0"/>
<path d="M245.80 148.80V145.30M241.20 145.30H250.40" stroke="#000" stroke-width="1.8" fill="none"/>
<path d="M245.80 229.6V233.4" stroke="#000" stroke-width="1.25"/>
<rect x="275.30" y="152.10" width="13.60" height="77.50" fill="url(#hln)" stroke="#000" stroke-width="2.0"/>
<path d="M282.10 151.60V143.70M277.50 143.70H286.70" stroke="#000" stroke-width="1.8" fill="none"/>
<path d="M282.10 229.6V233.4" stroke="#000" stroke-width="1.25"/>
<rect x="296.60" y="163.90" width="13.60" height="65.70" fill="url(#hln)" stroke="#000" stroke-width="2.0"/>
<path d="M303.40 163.40V152.20M298.80 152.20H308.00" stroke="#000" stroke-width="1.8" fill="none"/>
<path d="M303.40 229.6V233.4" stroke="#000" stroke-width="1.25"/>
<rect x="318.20" y="166.50" width="13.60" height="63.10" fill="url(#hln)" stroke="#000" stroke-width="2.0"/>
<path d="M325.00 166.00V162.70M320.40 162.70H329.60" stroke="#000" stroke-width="1.8" fill="none"/>
<path d="M325.00 229.6V233.4" stroke="#000" stroke-width="1.25"/>
<rect x="339.60" y="174.50" width="13.60" height="55.10" fill="url(#hln)" stroke="#000" stroke-width="2.0"/>
<path d="M346.40 174.00V166.70M341.80 166.70H351.00" stroke="#000" stroke-width="1.8" fill="none"/>
<path d="M346.40 229.6V233.4" stroke="#000" stroke-width="1.25"/>
<text x="80.70" y="242" text-anchor="middle" class="b">0</text>
<text x="101.70" y="242" text-anchor="middle" class="b">5</text>
<text x="123.10" y="242" text-anchor="middle" class="b">20</text>
<text x="144.80" y="242" text-anchor="middle" class="b">50</text>
<text x="181.10" y="242" text-anchor="middle" class="b">0</text>
<text x="201.90" y="242" text-anchor="middle" class="b">5</text>
<text x="223.30" y="242" text-anchor="middle" class="b">20</text>
<text x="244.70" y="242" text-anchor="middle" class="b">50</text>
<text x="281.90" y="242" text-anchor="middle" class="b">0</text>
<text x="302.60" y="242" text-anchor="middle" class="b">5</text>
<text x="323.90" y="242" text-anchor="middle" class="b">20</text>
<text x="345.30" y="242" text-anchor="middle" class="b">50</text>
<text x="2.2" y="242" class="b">3DG (mg/kg)</text>
<text transform="translate(35.4 193.5) rotate(-90)" class="yl">Plasma insulin</text>
<text transform="translate(35.4 120.2) rotate(-90)" class="ylb">(µIU/ml)</text>
<path d="M78.3 121.2V116.7H144.5V121.2" fill="none" stroke="#000" stroke-width="1.3"/>
<text x="114.15" y="119.4" text-anchor="middle" class="s">***</text>
<path d="M78.8 135.3V131H125.2V135.3" fill="none" stroke="#000" stroke-width="1.3"/>
<text x="102.85" y="133.4" text-anchor="middle" class="s">*</text>
<path d="M182 80V75.7H243V80" fill="none" stroke="#000" stroke-width="1.3"/>
<text x="217.5" y="73.3" text-anchor="middle" class="h">###</text>
<path d="M181.3 90.3V86.3H223V90.3" fill="none" stroke="#000" stroke-width="1.3"/>
<text x="205" y="85" text-anchor="middle" class="h">###</text>
<path d="M281.4 128V123.5H351.4V128" fill="none" stroke="#000" stroke-width="1.3"/>
<text x="321.4" y="120.8" text-anchor="middle" class="h">##</text>
<path d="M280.9 139V135.2H324.7V139" fill="none" stroke="#000" stroke-width="1.3"/>
<text x="303" y="132.5" text-anchor="middle" class="h">#</text>
<rect x="223.05" y="10.55" width="15.60" height="5.50" rx="1.2" fill="url(#fine)" stroke="#000" stroke-width="2.1"/>
<text x="247.6" y="16.3" class="b">Fasting</text>
<rect x="223.05" y="26.75" width="15.60" height="5.50" rx="1.2" fill="url(#chk)" stroke="#000" stroke-width="2.1"/>
<text x="247.6" y="33.1" class="b">15 min after glucose load</text>
<rect x="223.05" y="40.95" width="15.60" height="5.50" rx="1.2" fill="url(#leg3)" stroke="#000" stroke-width="2.1"/>
<path d="M224 43.699999999999996H237.7" stroke="#8a8a8a" stroke-width="1.4"/>
<text x="247.6" y="47.1" class="b">180 min after glucose load</text>
<path d="M474 45.75V227.8H775.7" fill="none" stroke="#000" stroke-width="1.4"/>
<path d="M469.8 46.3H474" stroke="#000" stroke-width="1.3"/>
<text x="468.4" y="48.9" text-anchor="end" class="b">300</text>
<path d="M469.8 106.8H474" stroke="#000" stroke-width="1.3"/>
<text x="468.4" y="109.39999999999999" text-anchor="end" class="b">200</text>
<path d="M469.8 167.3H474" stroke="#000" stroke-width="1.3"/>
<text x="468.4" y="169.9" text-anchor="end" class="b">100</text>
<path d="M469.8 227.8H474" stroke="#000" stroke-width="1.3"/>
<text x="468.4" y="230.4" text-anchor="end" class="b">0</text>
<rect x="490.30" y="119.10" width="21.40" height="108.70" fill="url(#fine)"/>
<rect x="490.30" y="119.10" width="21.40" height="108.70" fill="#fff" fill-opacity="0.16" stroke="#000" stroke-width="2.0"/>
<path d="M501.00 118.60V110.40M495.00 110.40H507.00" stroke="#000" stroke-width="1.8" fill="none"/>
<path d="M501.00 227.8V231.60000000000002" stroke="#000" stroke-width="1.25"/>
<rect x="522.70" y="118.30" width="21.40" height="109.50" fill="url(#fine)"/>
<rect x="522.70" y="118.30" width="21.40" height="109.50" fill="#fff" fill-opacity="0.16" stroke="#000" stroke-width="2.0"/>
<path d="M533.40 117.80V109.10M527.40 109.10H539.40" stroke="#000" stroke-width="1.8" fill="none"/>
<path d="M533.40 227.8V231.60000000000002" stroke="#000" stroke-width="1.25"/>
<rect x="554.90" y="105.70" width="21.40" height="122.10" fill="url(#fine)"/>
<rect x="554.90" y="105.70" width="21.40" height="122.10" fill="#fff" fill-opacity="0.16" stroke="#000" stroke-width="2.0"/>
<path d="M565.60 105.20V96.30M559.60 96.30H571.60" stroke="#000" stroke-width="1.8" fill="none"/>
<path d="M565.60 227.8V231.60000000000002" stroke="#000" stroke-width="1.25"/>
<rect x="587.30" y="100.90" width="21.40" height="126.90" fill="url(#fine)"/>
<rect x="587.30" y="100.90" width="21.40" height="126.90" fill="#fff" fill-opacity="0.16" stroke="#000" stroke-width="2.0"/>
<path d="M598.00 100.40V87.30M592.00 87.30H604.00" stroke="#000" stroke-width="1.8" fill="none"/>
<path d="M598.00 227.8V231.60000000000002" stroke="#000" stroke-width="1.25"/>
<rect x="641.40" y="113.80" width="21.40" height="114.00" fill="url(#chk)" stroke="#000" stroke-width="2.0"/>
<path d="M652.10 113.30V108.30M646.10 108.30H658.10" stroke="#000" stroke-width="1.8" fill="none"/>
<path d="M652.10 227.8V231.60000000000002" stroke="#000" stroke-width="1.25"/>
<rect x="673.80" y="101.20" width="21.40" height="126.60" fill="url(#chk)" stroke="#000" stroke-width="2.0"/>
<path d="M684.50 100.70V99.50M678.50 99.50H690.50" stroke="#000" stroke-width="1.8" fill="none"/>
<path d="M684.50 227.8V231.60000000000002" stroke="#000" stroke-width="1.25"/>
<rect x="706.20" y="91.80" width="21.40" height="136.00" fill="url(#chk)" stroke="#000" stroke-width="2.0"/>
<path d="M716.90 91.30V75.80M710.90 75.80H722.90" stroke="#000" stroke-width="1.8" fill="none"/>
<path d="M716.90 227.8V231.60000000000002" stroke="#000" stroke-width="1.25"/>
<rect x="738.60" y="75.10" width="21.40" height="152.70" fill="url(#chk)" stroke="#000" stroke-width="2.0"/>
<path d="M749.30 74.60V59.80M743.30 59.80H755.30" stroke="#000" stroke-width="1.8" fill="none"/>
<path d="M749.30 227.8V231.60000000000002" stroke="#000" stroke-width="1.25"/>
<text x="500.80" y="240.4" text-anchor="middle" class="b">0</text>
<text x="532.60" y="240.4" text-anchor="middle" class="b">5</text>
<text x="564.30" y="240.4" text-anchor="middle" class="b">20</text>
<text x="597.50" y="240.4" text-anchor="middle" class="b">50</text>
<text x="651.90" y="240.4" text-anchor="middle" class="b">0</text>
<text x="683.70" y="240.4" text-anchor="middle" class="b">5</text>
<text x="715.60" y="240.4" text-anchor="middle" class="b">20</text>
<text x="748.80" y="240.4" text-anchor="middle" class="b">50</text>
<text x="415" y="240.4" class="b">3DG (mg/kg)</text>
<text transform="translate(445.2 199.4) rotate(-90)" class="yl">Plasma glucagon</text>
<text transform="translate(445.2 112.6) rotate(-90)" class="yl">(pg/ml)</text>
<path d="M499 77.1V72.8H597.2V77.1" fill="none" stroke="#000" stroke-width="1.3"/>
<text x="545.85" y="75.4" text-anchor="middle" class="s">*</text>
<path d="M499 90.5V86.4H568.3V90.5" fill="none" stroke="#000" stroke-width="1.3"/>
<text x="533.55" y="89.1" text-anchor="middle" class="s">*</text>
<path d="M649.5 56V52H750.5V56" fill="none" stroke="#000" stroke-width="1.3"/>
<text x="696.3" y="49.4" text-anchor="middle" class="h">###</text>
<path d="M649.5 71.1V67.1H718.5V71.1" fill="none" stroke="#000" stroke-width="1.3"/>
<text x="683.7" y="64.7" text-anchor="middle" class="h">#</text>
<path d="M650.5 94.2V90.2H688.3V94.2" fill="none" stroke="#000" stroke-width="1.3"/>
<text x="669.4" y="87.8" text-anchor="middle" class="h">#</text>
<rect x="621.35" y="4.15" width="15.60" height="5.50" rx="1.2" fill="url(#fine)" stroke="#000" stroke-width="2.1"/>
<text x="645.2" y="10" class="b">Fasting</text>
<rect x="621.35" y="20.45" width="15.60" height="5.50" rx="1.2" fill="url(#chk)" stroke="#000" stroke-width="2.1"/>
<text x="645.2" y="26.6" class="b">180 min after glucose load</text>
</svg></body></html>
